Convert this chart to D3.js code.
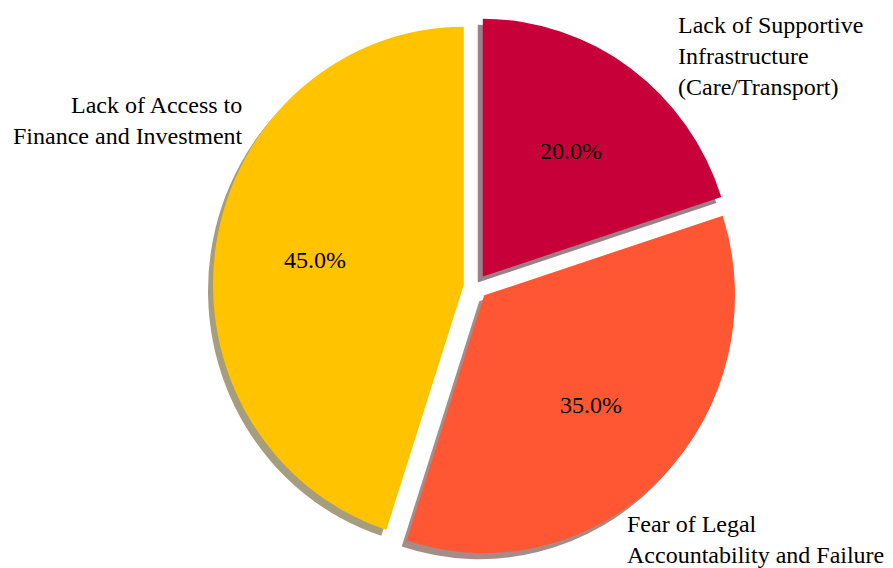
<!DOCTYPE html>
<html>
<head>
<meta charset="utf-8">
<script src="https://cdn.jsdelivr.net/npm/d3@7"></script>
</head>
<body style="margin:0">
<script>
// data
const categories = [
    ["Lack of Access to", "Finance and Investment"],
    ["Fear of Legal", "Accountability and Failure"],
    ["Lack of Supportive", "Infrastructure", "(Care/Transport)"]
]
const shares = [45, 35, 20]
const colors = ["#FFC300", "#FF5733", "#C70039"]

// layout (label angle in degrees, clockwise from 12 o'clock, and distance as fraction of radius)
const labelPlace = [
    { a: -54.3, k: 1.09, anchor: "end" },
    { a: 148.9, k: 1.104, anchor: "start" },
    { a: 42.3, k: 1.157, anchor: "start" }
]

const W = 893, H = 568
const cx = 475.7, cy = 286.6
const R = 250.8, sy = 1.028
const explode = 0.048 * R
const shadow = { dx: -5, dy: 6 }
const lineH = 31
const serif = '"Liberation Serif"'

const svg = d3.select("body").append("svg")
    .attr("width", W)
    .attr("height", H)

const pie = d3.pie().sort(null).startAngle(0).endAngle(-2 * Math.PI)
const arcs = pie(shares)
const arc = d3.arc().innerRadius(0).outerRadius(R)

const mid = d => (d.startAngle + d.endAngle) / 2
// exploded apex of a slice, in screen coords
const apex = d => [cx + Math.sin(mid(d)) * explode, cy - Math.cos(mid(d)) * explode * sy]

// shadows first, all under the wedges
svg.append("g").selectAll("path").data(arcs)
    .enter()
    .append("path")
    .attr("d", arc)
    .attr("transform", d => {
        let p = apex(d)
        return `translate(${p[0] + shadow.dx},${p[1] + shadow.dy}) scale(1,${sy})`
    })
    .attr("fill", (d, i) => {
        let c = d3.rgb(colors[i])
        return d3.rgb(c.r * 0.3, c.g * 0.3, c.b * 0.3)
    })
    .attr("fill-opacity", 0.5)

svg.append("g").selectAll("path").data(arcs)
    .enter()
    .append("path")
    .attr("d", arc)
    .attr("transform", d => {
        let p = apex(d)
        return `translate(${p[0]},${p[1]}) scale(1,${sy})`
    })
    .attr("fill", (d, i) => colors[i])

// text placed by measured width instead of text-anchor
const addText = (x, y, str, anchor) => {
    let t = svg.append("text")
        .attr("x", 10)
        .attr("y", Math.round(y))
        .style("font-family", serif)
        .attr("font-size", 24)
        .text(str)
    let w = t.node().getComputedTextLength ? t.node().getComputedTextLength() : 0
    let shift = anchor === "end" ? w : anchor === "middle" ? w / 2 : 0
    t.attr("x", Math.round(x - shift))
}

// percent labels at 0.6 R
const total = d3.sum(shares)
arcs.forEach(d => {
    let p = apex(d)
    addText(p[0] + Math.sin(mid(d)) * R * 0.6,
        p[1] - Math.cos(mid(d)) * R * 0.6 * sy + 8,
        (d.value / total * 100).toFixed(1) + "%", "middle")
})

// category labels
arcs.forEach((d, i) => {
    let p = apex(d)
    let a = labelPlace[i].a * Math.PI / 180
    let x = p[0] + Math.sin(a) * R * labelPlace[i].k
    let y = p[1] - Math.cos(a) * R * labelPlace[i].k * sy
    let lines = categories[i]
    lines.forEach((l, j) => {
        addText(x, y + (j - (lines.length - 1) / 2) * lineH + 8, l, labelPlace[i].anchor)
    })
})
</script>
</body>
</html>
